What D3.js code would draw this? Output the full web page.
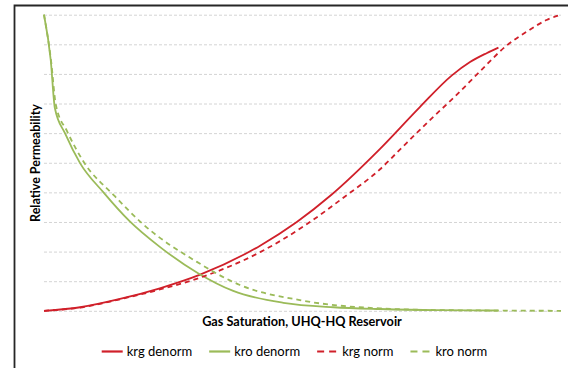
<!DOCTYPE html>
<html>
<head>
<meta charset="utf-8">
<script src="https://cdn.jsdelivr.net/npm/d3@7"></script>
<style>
  body { margin: 0; background: #fff; }
  text { font-family: Lato, "Liberation Sans", sans-serif; fill: #000; }
</style>
</head>
<body>
<script>
// gas saturation (normalised 0..1 across the axis) and rel. perm values
var krgDenormSg = [0, 0.07, 0.147, 0.224, 0.302, 0.418, 0.489, 0.556, 0.650, 0.727, 0.789, 0.824, 0.856, 0.879];
var krgDenorm   = [0, 0.012, 0.040, 0.076, 0.122, 0.220, 0.300, 0.392, 0.547, 0.688, 0.795, 0.840, 0.870, 0.889];

var krgNormSg = [0, 0.07, 0.147, 0.224, 0.302, 0.418, 0.508, 0.579, 0.650, 0.695, 0.747, 0.798, 0.843, 0.895, 0.934, 0.972, 1.0];
var krgNorm   = [0, 0.011, 0.039, 0.072, 0.112, 0.198, 0.292, 0.382, 0.478, 0.556, 0.645, 0.729, 0.808, 0.896, 0.943, 0.982, 1.0];

var kroDenormSg = [0, 0.013, 0.021, 0.041, 0.070, 0.115, 0.166, 0.224, 0.298, 0.366, 0.463, 0.560, 0.650, 0.760, 0.879];
var kroDenorm   = [1.0, 0.847, 0.685, 0.598, 0.498, 0.400, 0.302, 0.216, 0.127, 0.067, 0.027, 0.012, 0.006, 0.002, 0.001];

var kroNormSg = [0, 0.0135, 0.023, 0.045, 0.076, 0.137, 0.192, 0.295, 0.379, 0.495, 0.650, 0.785, 1.0];
var kroNorm   = [1.0, 0.847, 0.695, 0.605, 0.505, 0.387, 0.292, 0.166, 0.087, 0.036, 0.008, 0.002, 0];

var yGrid = [0, 0.1, 0.2, 0.3, 0.4, 0.5, 0.6, 0.7, 0.8, 0.9, 1.0];

var red = "#d0202a", green = "#9bbb59";

var series = [
    {name: "krg denorm", sg: krgDenormSg, kr: krgDenorm, color: red, dash: null},
    {name: "kro denorm", sg: kroDenormSg, kr: kroDenorm, color: green, dash: null},
    {name: "krg norm", sg: krgNormSg, kr: krgNorm, color: red, dash: "5,4"},
    {name: "kro norm", sg: kroNormSg, kr: kroNorm, color: green, dash: "5,4"}
];

var w = 568, h = 368;

var svg = d3.select("body").append("svg")
    .attr("width", w)
    .attr("height", h);

var x = d3.scaleLinear().domain([0, 1]).range([44, 561]);
var y = d3.scaleLinear().domain([0, 1]).range([310.8, 14.7]);

// frame on the left and top
svg.append("path")
    .attr("d", "M14.5,368V5.5H568")
    .attr("fill", "none")
    .attr("stroke", "#262626")
    .attr("stroke-width", 1.8);

// dashed horizontal gridlines
svg.append("g")
    .call(d3.axisLeft(y).tickValues(yGrid).tickSize(-(561 - 44)).tickFormat(""))
    .attr("transform", "translate(44,0)")
    .call(function(g){
        g.select(".domain").remove();
        g.selectAll(".tick line")
            .attr("stroke", "#d4d4d4")
            .attr("stroke-width", 1)
            .attr("stroke-dasharray", "3,2");
    });

var line = d3.line()
    .x(function(d){ return x(d[0]); })
    .y(function(d){ return y(d[1]); })
    .curve(d3.curveMonotoneX);

series.forEach(function(s){
    var pts = s.sg.map(function(v, i){ return [v, s.kr[i]]; });
    svg.append("path")
        .datum(pts)
        .attr("d", line)
        .attr("fill", "none")
        .attr("stroke", s.color)
        .attr("stroke-width", 1.8)
        .attr("stroke-dasharray", s.dash);
});

// axis titles
svg.append("text")
    .attr("transform", "translate(40,163) rotate(-90)")
    .attr("text-anchor", "middle")
    .style("font-size", "12.5px")
    .style("font-weight", "bold")
    .text("Relative Permeability");

svg.append("text")
    .attr("x", 302)
    .attr("y", 326)
    .attr("text-anchor", "middle")
    .style("font-size", "12.7px")
    .style("font-weight", "bold")
    .text("Gas Saturation, UHQ-HQ Reservoir");

// legend
var legend = svg.append("g");
var lx = 0;
series.forEach(function(s){
    var item = legend.append("g").attr("transform", "translate(" + lx + ",0)");
    item.append("line")
        .attr("x1", 0).attr("x2", 21)
        .attr("y1", 351.5).attr("y2", 351.5)
        .attr("stroke", s.color)
        .attr("stroke-width", 2.2)
        .attr("stroke-dasharray", s.dash ? "7,5" : null);
    var t = item.append("text")
        .attr("x", 25)
        .attr("y", 356)
        .style("font-size", "13px")
        .text(s.name);
    lx += 25 + t.node().getComputedTextLength() + 17;
});
var legendW = lx - 17;
legend.attr("transform", "translate(" + (294.5 - legendW / 2) + ",0)");
</script>
</body>
</html>
